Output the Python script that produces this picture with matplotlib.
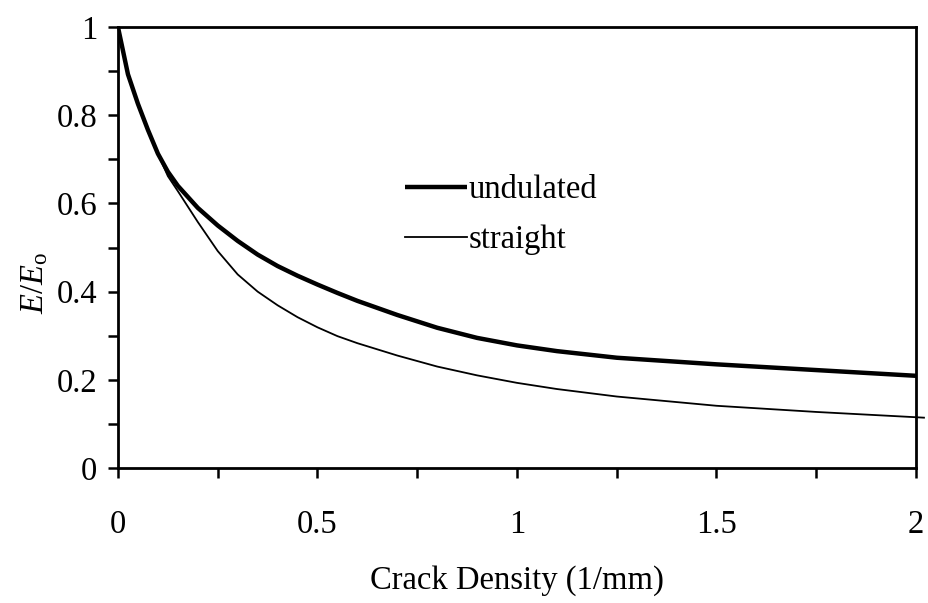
import numpy as np
import matplotlib
matplotlib.use("Agg")
import matplotlib.pyplot as plt
from matplotlib.ticker import MultipleLocator, FormatStrFormatter

plt.rcParams['font.family'] = ['Liberation Serif', 'DejaVu Serif']
plt.rcParams['mathtext.fontset'] = 'custom'
plt.rcParams['mathtext.rm'] = 'Liberation Serif'
plt.rcParams['mathtext.it'] = 'Liberation Serif:italic'

# crack density (1/mm) and normalised stiffness for both crack shapes
density = [0.0, 0.025, 0.05, 0.075, 0.1, 0.125, 0.15, 0.2, 0.25, 0.3, 0.35, 0.4,
           0.45, 0.5, 0.55, 0.6, 0.7, 0.8, 0.9, 1.0, 1.1, 1.25, 1.5, 1.75, 2.0]
undulated = [1.0, 0.893, 0.826, 0.767, 0.713, 0.672, 0.64, 0.59, 0.55, 0.515, 0.484, 0.458,
             0.436, 0.416, 0.397, 0.379, 0.347, 0.318, 0.295, 0.278, 0.265, 0.25, 0.235,
             0.222, 0.209]
straight = [1.0, 0.893, 0.826, 0.767, 0.713, 0.662, 0.628, 0.558, 0.492, 0.439, 0.4, 0.369,
            0.342, 0.319, 0.299, 0.283, 0.255, 0.23, 0.21, 0.193, 0.179, 0.162, 0.141,
            0.127, 0.115]
# the thin curve runs just past the right frame
straight_x = density + [2.02]
straight_y = straight + [0.114]

fig = plt.figure(figsize=(9.29, 6.03), dpi=100)
ax = fig.add_axes([0.127, 0.224, 0.859, 0.731])

ax.plot(density, undulated, color='black', lw=3.2, label='undulated', solid_capstyle='butt')
ax.plot(straight_x, straight_y, color='black', lw=1.3, label='straight', clip_on=False)

ax.set_xlim(0, 2)
ax.set_ylim(0, 1)

ax.xaxis.set_major_locator(MultipleLocator(0.5))
ax.xaxis.set_minor_locator(MultipleLocator(0.25))
ax.yaxis.set_major_locator(MultipleLocator(0.2))
ax.yaxis.set_minor_locator(MultipleLocator(0.1))
ax.xaxis.set_major_formatter(FormatStrFormatter('%g'))
ax.yaxis.set_major_formatter(FormatStrFormatter('%g'))

ax.tick_params(which='both', direction='out', length=7, width=1.8, labelsize=23.5)
ax.tick_params(axis='x', which='major', pad=23)
ax.tick_params(axis='y', which='major', pad=8)
for s in ax.spines.values():
    s.set_linewidth(2.0)

ax.set_xlabel('Crack Density (1/mm)', fontsize=23.5, labelpad=18)
ax.set_ylabel(r'$E/E_{\mathrm{o}}$', fontsize=23.5)
ax.yaxis.set_label_coords(-0.085, 0.42)

ax.legend(loc='upper left', bbox_to_anchor=(0.36, 0.665), frameon=False, fontsize=23.5,
          handlelength=1.9, handletextpad=0.05, labelspacing=0.6, borderaxespad=0,
          borderpad=0)

fig.savefig('out.png', dpi=100)
